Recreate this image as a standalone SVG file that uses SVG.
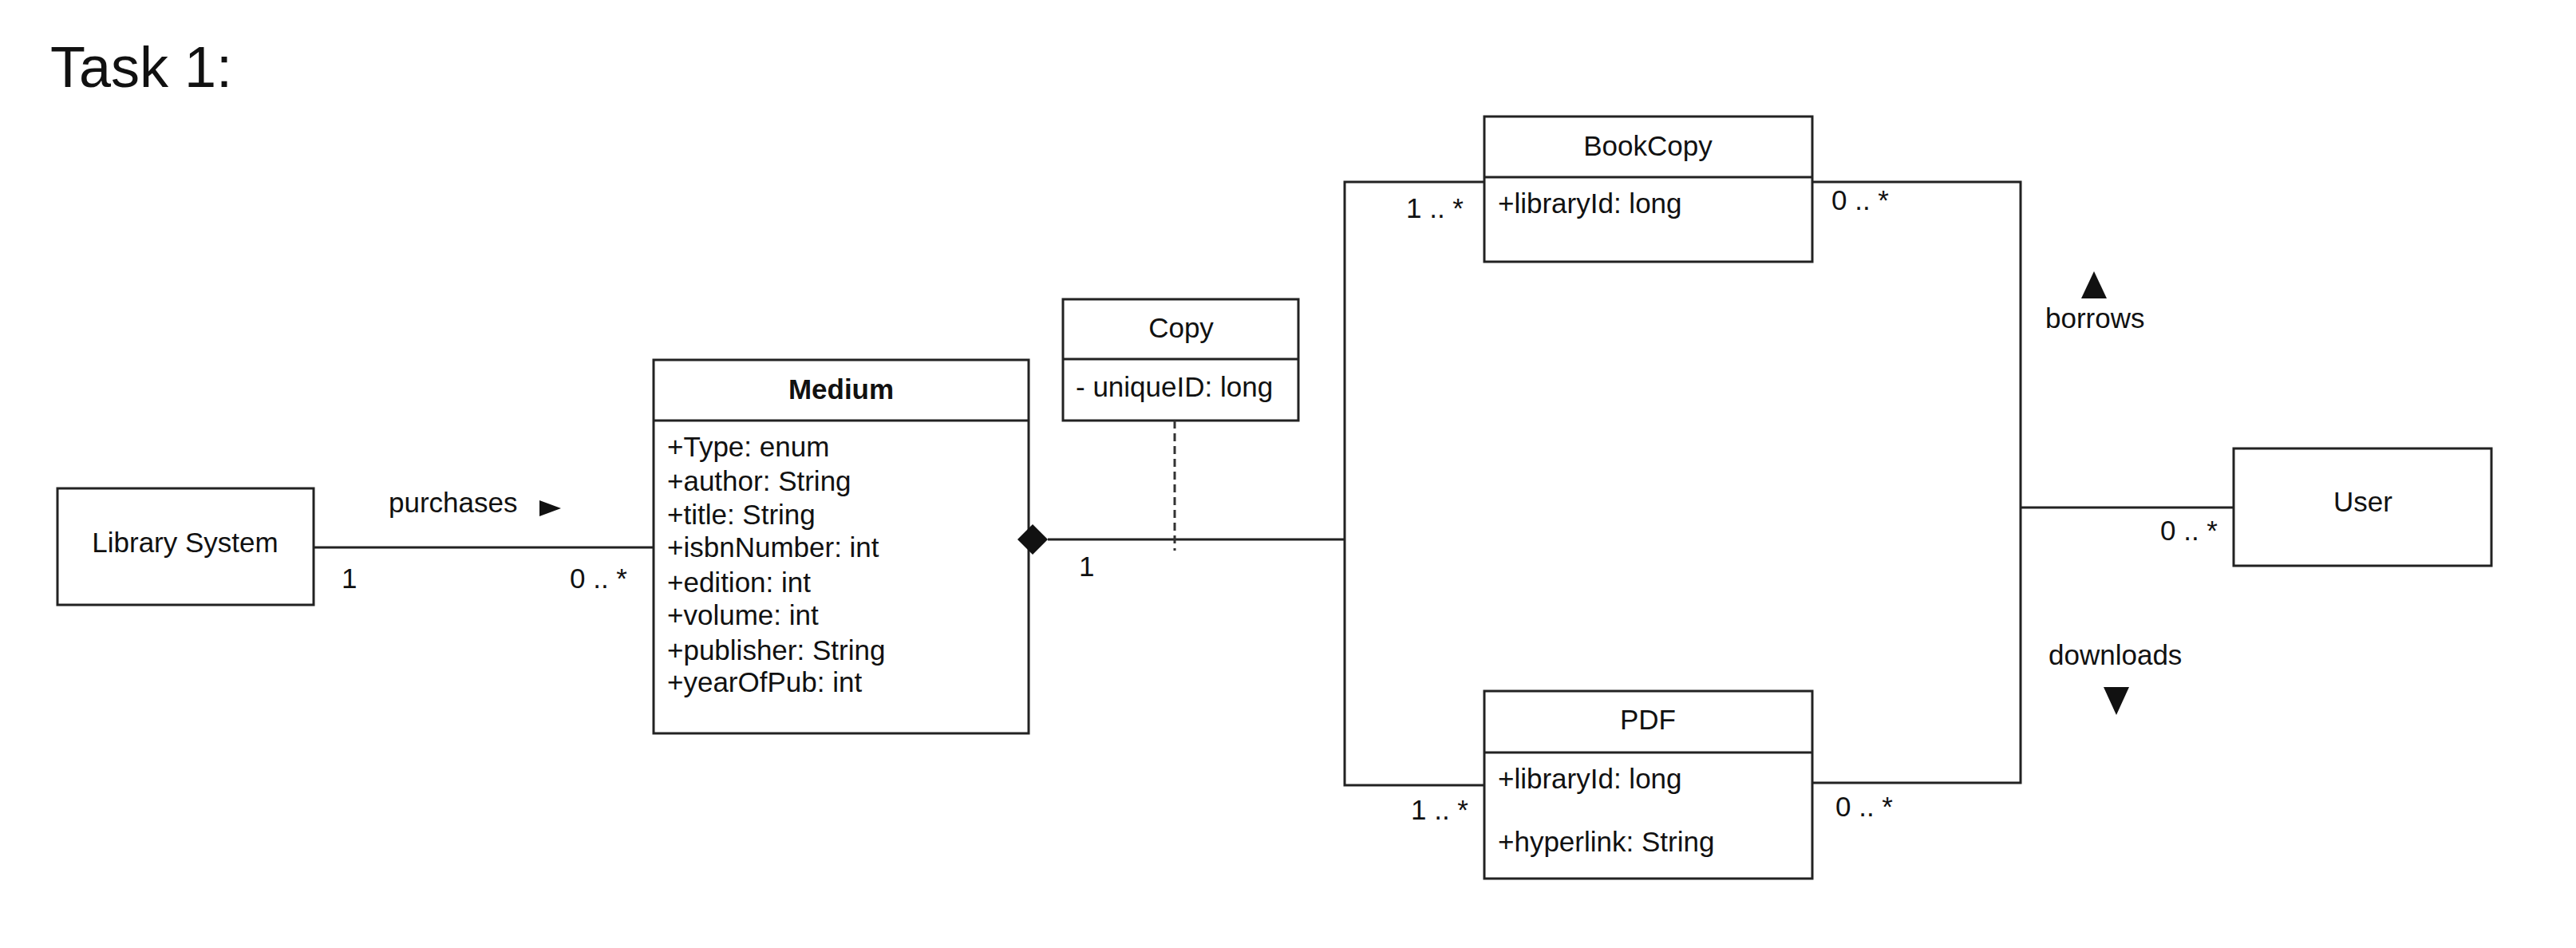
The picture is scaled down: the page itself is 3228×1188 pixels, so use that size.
<svg xmlns="http://www.w3.org/2000/svg" width="3228" height="1188" viewBox="0 0 3228 1188">
<style>
.box{fill:#fff;stroke:#222;stroke-width:3}
.ln{fill:none;stroke:#222;stroke-width:3}
.dash{fill:none;stroke:#333;stroke-width:3;stroke-dasharray:10 6}
.t{font-family:"Liberation Sans",Arial,sans-serif;font-size:35px;fill:#111}
.c{text-anchor:middle}
.b{font-weight:bold}
.tri{fill:#111}
</style>
<rect width="3228" height="1188" fill="#fff"/>
<text x="63" y="109" style="font-family:'Liberation Sans',Arial,sans-serif;font-size:72px;fill:#111">Task 1:</text>

<g id="library-system">
<rect class="box" x="72" y="612" width="321" height="146"/>
<text class="t c" x="232" y="692">Library System</text>
</g>

<g id="medium">
<rect class="box" x="819" y="451" width="470" height="468"/>
<line class="ln" x1="819" y1="527" x2="1289" y2="527"/>
<text class="t c b" x="1054" y="500">Medium</text>
<text class="t" x="836" y="572">+Type: enum</text>
<text class="t" x="836" y="615">+author: String</text>
<text class="t" x="836" y="657">+title: String</text>
<text class="t" x="836" y="698">+isbnNumber: int</text>
<text class="t" x="836" y="742">+edition: int</text>
<text class="t" x="836" y="783">+volume: int</text>
<text class="t" x="836" y="827">+publisher: String</text>
<text class="t" x="836" y="867">+yearOfPub: int</text>
</g>

<g id="copy">
<rect class="box" x="1332" y="375" width="295" height="152"/>
<line class="ln" x1="1332" y1="450" x2="1627" y2="450"/>
<text class="t c" x="1480" y="423">Copy</text>
<text class="t" x="1348" y="497">- uniqueID: long</text>
</g>

<g id="bookcopy">
<rect class="box" x="1860" y="146" width="411" height="182"/>
<line class="ln" x1="1860" y1="222" x2="2271" y2="222"/>
<text class="t c" x="2065" y="195">BookCopy</text>
<text class="t" x="1877" y="267">+libraryId: long</text>
</g>

<g id="pdf">
<rect class="box" x="1860" y="866" width="411" height="235"/>
<line class="ln" x1="1860" y1="943" x2="2271" y2="943"/>
<text class="t c" x="2065" y="914">PDF</text>
<text class="t" x="1877" y="988">+libraryId: long</text>
<text class="t" x="1877" y="1067">+hyperlink: String</text>
</g>

<g id="user">
<rect class="box" x="2799" y="562" width="323" height="147"/>
<text class="t c" x="2961" y="641">User</text>
</g>

<g id="connectors">
<line class="ln" x1="393" y1="686" x2="819" y2="686"/>
<line class="ln" x1="1313" y1="676" x2="1685" y2="676"/>
<polygon class="tri" points="1275,676 1294,657 1313,676 1294,695"/>
<line class="dash" x1="1472" y1="527" x2="1472" y2="690"/>
<polyline class="ln" points="1860,228 1685,228 1685,984 1860,984"/>
<polyline class="ln" points="2271,228 2532,228 2532,981 2271,981"/>
<line class="ln" x1="2532" y1="636" x2="2799" y2="636"/>
<text class="t" x="487" y="642">purchases</text>
<polygon class="tri" points="676,627 703,637 676,647"/>
<text class="t" x="428" y="737">1</text>
<text class="t" x="714" y="737">0 .. *</text>
<text class="t" x="1352" y="722">1</text>
<text class="t" x="1762" y="273">1 .. *</text>
<text class="t" x="2295" y="263">0 .. *</text>
<text class="t" x="1768" y="1027">1 .. *</text>
<text class="t" x="2300" y="1023">0 .. *</text>
<text class="t" x="2707" y="677">0 .. *</text>
<text class="t" x="2563" y="411">borrows</text>
<polygon class="tri" points="2624,340 2640,374 2608,374"/>
<text class="t" x="2567" y="833">downloads</text>
<polygon class="tri" points="2636,861 2668,861 2652,896"/>
</g>
</svg>
